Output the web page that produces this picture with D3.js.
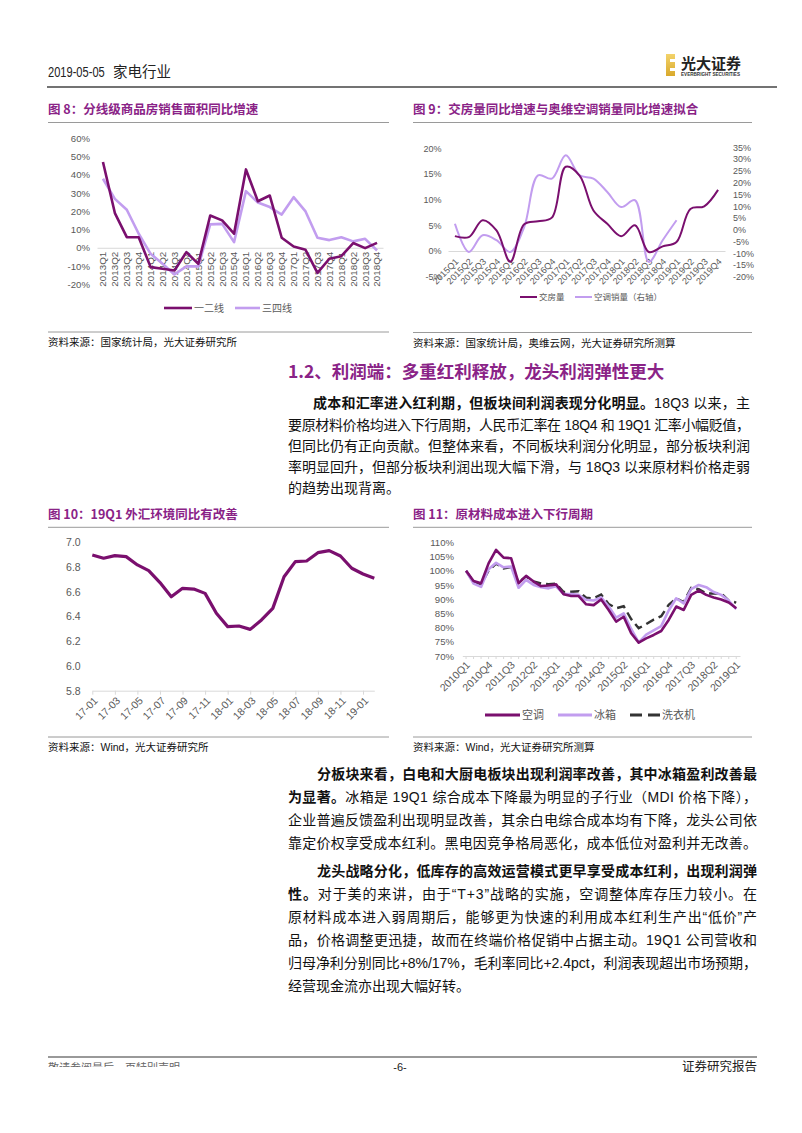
<!DOCTYPE html>
<html><head><meta charset="utf-8">
<script src="https://cdn.jsdelivr.net/npm/d3@7"></script>
<style>html,body{margin:0;padding:0;background:#fff;}svg{display:block;}</style>
</head><body>
<script>
// ---------------- DATA ----------------
const q8 = ["2013Q1","2013Q2","2013Q3","2013Q4","2014Q1","2014Q2","2014Q3","2014Q4","2015Q1","2015Q2","2015Q3","2015Q4","2016Q1","2016Q2","2016Q3","2016Q4","2017Q1","2017Q2","2017Q3","2017Q4","2018Q1","2018Q2","2018Q3","2018Q4"];
const tier12 = [47,19,5.8,5.8,-10.6,-11.5,-12.4,-2.4,-8.8,17.7,15,7.7,42.9,25.5,28.6,5.5,0.7,-1.1,-13.7,-6,-4.6,2.6,-0.2,2.7];
const tier34 = [37.8,26.8,20.8,7.7,-3.3,-8.8,-14.6,-10.2,-10.2,12.8,13.1,3.1,31,24.8,22.3,18.2,27.7,19.9,5.5,4.2,5.8,3.5,4.9,-1.5];
const ticks8 = [-20,-10,0,10,20,30,40,50,60];

const q9 = ["2015Q1","2015Q2","2015Q3","2015Q4","2016Q1","2016Q2","2016Q3","2016Q4","2017Q1","2017Q2","2017Q3","2017Q4","2018Q1","2018Q2","2018Q3","2018Q4","2019Q1","2019Q2","2019Q3","2019Q4"];
const housing = [2.9,2.7,6.0,4.0,-2.1,5.2,5.8,6.5,16.4,14.7,7.9,5.3,2.9,5.0,-0.2,0.9,1.75,8.2,8.7,11.9];
const acSales = [2.5,-9.5,-2.4,-4.5,-9.5,1.1,23.1,21.7,31.6,23.1,21.7,16,9.6,12.5,-13.7,-4.5,4.0];
const ticks9L = [-5,0,5,10,15,20];
const ticks9R = [-20,-15,-10,-5,0,5,10,15,20,25,30,35];

const m10 = ["17-01","17-02","17-03","17-04","17-05","17-06","17-07","17-08","17-09","17-10","17-11","17-12","18-01","18-02","18-03","18-04","18-05","18-06","18-07","18-08","18-09","18-10","18-11","18-12","19-01","19-02"];
const fx = [6.898,6.871,6.892,6.884,6.817,6.771,6.674,6.560,6.628,6.622,6.587,6.426,6.318,6.323,6.296,6.372,6.466,6.722,6.844,6.849,6.916,6.933,6.889,6.790,6.744,6.709];
const labels10 = ["17-01","17-03","17-05","17-07","17-09","17-11","18-01","18-03","18-05","18-07","18-09","18-11","19-01"];
const ticks10 = [5.8,6.0,6.2,6.4,6.6,6.8,7.0];

const q11 = ["2010Q1","2010Q2","2010Q3","2010Q4","2011Q1","2011Q2","2011Q3","2011Q4","2012Q1","2012Q2","2012Q3","2012Q4","2013Q1","2013Q2","2013Q3","2013Q4","2014Q1","2014Q2","2014Q3","2014Q4","2015Q1","2015Q2","2015Q3","2015Q4","2016Q1","2016Q2","2016Q3","2016Q4","2017Q1","2017Q2","2017Q3","2017Q4","2018Q1","2018Q2","2018Q3","2018Q4","2019Q1"];
const aircon = [100,96.4,95.6,102.6,107.3,104.6,104.4,95.6,98.2,96.2,94.6,94.8,95.2,91.7,91.1,91.1,88.2,87.9,89.9,86.2,82.1,83.8,78.0,74.7,76.2,77.4,78.8,82.7,87.4,86.2,91.5,93.0,91.5,90.6,89.9,88.8,86.8];
const fridge = [100,95.5,94.3,100.5,102.8,101.2,101.5,94.0,96.8,95.0,94.2,93.8,94.5,91.8,91.8,91.5,89.8,89.5,90.6,87.5,83.5,85.0,79.5,74.8,77.5,79.0,80.5,86.0,90.3,88.5,93.5,95.0,94.2,92.5,91.5,89.5,86.5];
const washer = [100,96,95.2,100,102.5,100.8,101.3,96,98,96.2,95.5,95.3,95.5,92.5,92.6,92.8,90.5,90.3,91.6,88.3,86.8,87.5,83,79.8,81.2,82.8,84,88,90.3,89,94,93.5,92,92,92,89.5,88.8];
const labels11 = ["2010Q1","2010Q4","2011Q3","2012Q2","2013Q1","2013Q4","2014Q3","2015Q2","2016Q1","2016Q4","2017Q3","2018Q2","2019Q1"];
const ticks11 = [70,75,80,85,90,95,100,105,110];

// ---------------- SETUP ----------------
const W = 802, H = 1133;
const DARK = '#7A0F6E', LIGHT = '#C29DEF', PURPLE = '#8A2387', AX = '#595959', GRID = '#D9D9D9';
const FONT = '"Liberation Sans","Noto Sans CJK SC",sans-serif';
const CJK = '"Noto Sans CJK SC","Liberation Sans",sans-serif';
const svg = d3.select('body').append('svg').attr('width', W).attr('height', H)
  .style('font-family', FONT);
svg.append('rect').attr('width', W).attr('height', H).attr('fill', '#fff');

function txt(g, x, y, s, size, opt = {}) {
  return g.append('text').attr('x', x).attr('y', y).text(s)
    .style('font-size', size + 'px')
    .style('font-family', opt.family || FONT)
    .style('font-weight', opt.weight || 400)
    .attr('fill', opt.fill || '#000')
    .attr('text-anchor', opt.anchor || 'start');
}
function hline(x1, x2, y, color, w) {
  svg.append('line').attr('x1', x1).attr('x2', x2).attr('y1', y).attr('y2', y)
    .attr('stroke', color).attr('stroke-width', w);
}

// ---------------- HEADER ----------------
txt(svg, 0, 0, '2019-05-05', 15, {fill: '#222'}).attr('transform', 'translate(48,77) scale(0.74,1)');
txt(svg, 113, 77, '家电行业', 14.5, {family: CJK, fill: '#222'});
hline(47, 777, 87, '#444', 1.5);
// logo
const lg = svg.append('g');
const grad = svg.append('defs').append('linearGradient').attr('id', 'gold').attr('x1', 0).attr('x2', 0).attr('y1', 0).attr('y2', 1);
grad.append('stop').attr('offset', '0%').attr('stop-color', '#F3D36B');
grad.append('stop').attr('offset', '100%').attr('stop-color', '#D9A92B');
lg.append('rect').attr('x', 666).attr('y', 54).attr('width', 9).attr('height', 22).attr('fill', 'url(#gold)');
lg.append('rect').attr('x', 670).attr('y', 59).attr('width', 5).attr('height', 3).attr('fill', '#fff');
lg.append('rect').attr('x', 670).attr('y', 68).attr('width', 5).attr('height', 3).attr('fill', '#fff');
txt(lg, 681, 69, '光大证券', 15, {family: CJK, weight: 700, fill: '#222'});
txt(lg, 681, 76, 'EVERBRIGHT SECURITIES', 4.6, {fill: '#333', weight: 700});

// ---------------- CHART FRAMES ----------------
function frame(x1, x2, yTitle, title, yRule, yBot, source) {
  const g = svg.append('g');
  const t = g.append('text').attr('x', x1).attr('y', yTitle)
    .style('font-size', '12.5px').style('font-weight', 700).style('font-family', CJK).attr('fill', PURPLE);
  t.text(title);
  hline(x1, x2, yRule, '#9A9A9A', 1);
  hline(x1, x2, yBot, '#9A9A9A', 1);
  txt(svg, x1, yBot + 14, source, 10.5, {family: FONT, fill: '#111'});
}
frame(48, 389, 114, '图 8：分线级商品房销售面积同比增速', 122.5, 332, '资料来源：国家统计局，光大证券研究所');
frame(413, 752, 114, '图 9：交房量同比增速与奥维空调销量同比增速拟合', 122.5, 332.5, '资料来源：国家统计局，奥维云网，光大证券研究所测算');
frame(48, 389, 519, '图 10：19Q1 外汇环境同比有改善', 527.3, 737, '资料来源：Wind，光大证券研究所');
frame(413, 752, 519, '图 11：原材料成本进入下行周期', 527.3, 737, '资料来源：Wind，光大证券研究所测算');

function styleAxisText(sel, size) {
  sel.selectAll('text').attr('fill', AX).style('font-size', size + 'px').style('font-family', FONT);
}
function yLabels(scale, vals, xEnd, fmt, size, side) {
  const ax = side === 'right' ? d3.axisRight(scale) : d3.axisLeft(scale);
  const g = svg.append('g').attr('transform', `translate(${side === 'right' ? xEnd - 3 : xEnd + 3},0)`)
    .call(ax.tickValues(vals).tickSize(0).tickFormat(fmt));
  g.select('.domain').remove();
  styleAxisText(g, size);
  return g;
}
function xAxis(scale, yPos, labels, rot, dx, dy, size, tickLen) {
  const g = svg.append('g').attr('transform', `translate(0,${yPos})`)
    .call(d3.axisBottom(scale).tickSize(tickLen).tickSizeOuter(0));
  g.select('.domain').attr('stroke', GRID);
  g.selectAll('.tick line').attr('stroke', GRID);
  g.selectAll('.tick').filter(d => labels && !labels.includes(d)).select('text').remove();
  const t = g.selectAll('text').attr('x', 0).attr('y', 0).attr('dy', '0.35em').attr('text-anchor', 'end');
  if (rot === -90) t.attr('transform', `rotate(-90)`).attr('x', -dy);
  else t.attr('transform', `translate(${dx},${dy}) rotate(${rot})`);
  styleAxisText(g, size);
  return g;
}
function legendItem(x1, x2, y, color, width, label, size, dash, family) {
  const g = svg.append('g');
  g.append('line').attr('x1', x1).attr('x2', x2).attr('y1', y).attr('y2', y)
    .attr('stroke', color).attr('stroke-width', width).attr('stroke-dasharray', dash || null);
  txt(g, x2 + 2, y + size * 0.36, label, size, {family: family || CJK, fill: AX});
}

// ---------------- CHART 8 ----------------
const x8 = d3.scaleBand().domain(q8).range([97, 383]);
const y8 = d3.scaleLinear().domain([-20, 60]).range([284.3, 138.2]);
yLabels(y8, ticks8, 90, d => d + '%', 9.6);
xAxis(x8, y8(0), null, -90, 0, 4, 9.8, 0);
const line8 = d3.line().x((d, i) => x8(q8[i]) + x8.bandwidth() / 2).y(d => y8(d));
svg.append('path').datum(tier34).attr('d', line8).attr('fill', 'none').attr('stroke', LIGHT).attr('stroke-width', 2.6).attr('stroke-linejoin', 'round');
svg.append('path').datum(tier12).attr('d', line8).attr('fill', 'none').attr('stroke', DARK).attr('stroke-width', 2.6).attr('stroke-linejoin', 'round');
legendItem(164, 192, 308, DARK, 2.6, '一二线', 10);
legendItem(235, 260, 308, LIGHT, 2.6, '三四线', 10);

// ---------------- CHART 9 ----------------
const x9 = d3.scaleBand().domain(q9).range([448, 725]);
const y9L = d3.scaleLinear().domain([-5, 20]).range([276.7, 148.3]);
const y9R = d3.scaleLinear().domain([-20, 35]).range([276.7, 147.3]);
yLabels(y9L, ticks9L, 441.5, d => d + '%', 9);
yLabels(y9R, ticks9R, 733, d => d + '%', 9, 'right');
xAxis(x9, y9L(0), null, -45, 2, 9, 9, 0);
const cx9 = (d, i) => x9(q9[i]) + x9.bandwidth() / 2;
svg.append('path').datum(acSales).attr('d', d3.line().x(cx9).y(d => y9R(d)).curve(d3.curveCatmullRom.alpha(0.5)))
  .attr('fill', 'none').attr('stroke', LIGHT).attr('stroke-width', 2);
svg.append('path').datum(housing).attr('d', d3.line().x(cx9).y(d => y9L(d)).curve(d3.curveCatmullRom.alpha(0.5)))
  .attr('fill', 'none').attr('stroke', DARK).attr('stroke-width', 2);
legendItem(520, 537, 297, DARK, 2, '交房量', 8.5);
legendItem(575, 592, 297, LIGHT, 2, '空调销量（右轴）', 8.5);

// ---------------- CHART 10 ----------------
const x10 = d3.scalePoint().domain(m10).range([92.3, 374.3]);
const y10 = d3.scaleLinear().domain([5.8, 7.0]).range([690.7, 542.3]);
yLabels(y10, ticks10, 80.7, d3.format('.1f'), 10.5);
const xa10 = svg.append('g').attr('transform', `translate(0,${y10(5.8)})`)
  .call(d3.axisBottom(x10).tickValues(labels10).tickSize(4).tickSizeOuter(0));
xa10.select('.domain').attr('stroke', GRID);
xa10.selectAll('.tick line').attr('stroke', GRID);
xa10.selectAll('text').attr('x', 0).attr('y', 0).attr('dy', '0.35em').attr('text-anchor', 'end')
  .attr('transform', 'translate(3,8) rotate(-45)');
styleAxisText(xa10, 10.5);
svg.append('path').datum(fx).attr('d', d3.line().x((d, i) => x10(m10[i])).y(d => y10(d)))
  .attr('fill', 'none').attr('stroke', DARK).attr('stroke-width', 3.2).attr('stroke-linejoin', 'round');

// ---------------- CHART 11 ----------------
const x11 = d3.scaleBand().domain(q11).range([462.3, 740]);
const y11 = d3.scaleLinear().domain([70, 110]).range([656, 542.3]);
yLabels(y11, ticks11, 454, d => d + '%', 9.6);
xAxis(x11, y11(70), labels11, -45, 2, 7, 10.5, 3);
const line11 = d3.line().x((d, i) => x11(q11[i]) + x11.bandwidth() / 2).y(d => y11(d));
svg.append('path').datum(washer).attr('d', line11).attr('fill', 'none').attr('stroke', '#333').attr('stroke-width', 2.4).attr('stroke-dasharray', '9,5');
svg.append('path').datum(fridge).attr('d', line11).attr('fill', 'none').attr('stroke', LIGHT).attr('stroke-width', 2.6).attr('stroke-linejoin', 'round');
svg.append('path').datum(aircon).attr('d', line11).attr('fill', 'none').attr('stroke', DARK).attr('stroke-width', 2.6).attr('stroke-linejoin', 'round');
legendItem(485, 520, 715, DARK, 3, '空调', 11);
legendItem(558, 592, 715, LIGHT, 3, '冰箱', 11);
legendItem(630, 660, 715, '#333', 3, '洗衣机', 11, '12,6');

// ---------------- SECTION HEADING & TEXT ----------------
txt(svg, 288, 378, '1.2、利润端：多重红利释放，龙头利润弹性更大', 17.5, {family: CJK, weight: 700, fill: PURPLE});

function para(x, xEnd, y, parts, justify) {
  const t = svg.append('text').attr('x', x).attr('y', y).style('font-size', '14px').attr('fill', '#111');
  parts.forEach(p => {
    t.append('tspan').text(p[0]).style('font-weight', p[1] ? 700 : 400).style('font-family', FONT);
  });
  if (justify) t.attr('textLength', xEnd - x).attr('lengthAdjust', 'spacing');
}
const P1 = [
  [313, 408, [['成本和汇率进入红利期，但板块间利润表现分化明显。', 1], ['18Q3 以来，主', 0]], true],
  [288, 430, [['要原材料价格均进入下行周期，人民币汇率在 18Q4 和 19Q1 汇率小幅贬值，', 0]], true],
  [288, 451, [['但同比仍有正向贡献。但整体来看，不同板块利润分化明显，部分板块利润', 0]], true],
  [288, 472, [['率明显回升，但部分板块利润出现大幅下滑，与 18Q3 以来原材料价格走弱', 0]], true],
  [288, 493, [['的趋势出现背离。', 0]], false]
];
P1.forEach(l => para(l[0], 750, l[1], l[2], l[3]));
const P2 = [
  [317, 779, [['分板块来看，白电和大厨电板块出现利润率改善，其中冰箱盈利改善最', 1]], true],
  [288, 802, [['为显著。', 1], ['冰箱是 19Q1 综合成本下降最为明显的子行业（MDI 价格下降），', 0]], true],
  [288, 825, [['企业普遍反馈盈利出现明显改善，其余白电综合成本均有下降，龙头公司依', 0]], true],
  [288, 848, [['靠定价权享受成本红利。黑电因竞争格局恶化，成本低位对盈利并无改善。', 0]], true],
  [317, 876, [['龙头战略分化，低库存的高效运营模式更早享受成本红利，出现利润弹', 1]], true],
  [288, 899, [['性。', 1], ['对于美的来讲，由于“T+3”战略的实施，空调整体库存压力较小。在', 0]], true],
  [288, 922, [['原材料成本进入弱周期后，能够更为快速的利用成本红利生产出“低价”产', 0]], true],
  [288, 945, [['品，价格调整更迅捷，故而在终端价格促销中占据主动。19Q1 公司营收和', 0]], true],
  [288, 968, [['归母净利分别同比+8%/17%，毛利率同比+2.4pct，利润表现超出市场预期，', 0]], true],
  [288, 991, [['经营现金流亦出现大幅好转。', 0]], false]
];
P2.forEach(l => para(l[0], 757, l[1], l[2], l[3]));

// ---------------- FOOTER ----------------
hline(48, 757, 1057, '#777', 1.5);
svg.append('defs').append('clipPath').attr('id', 'fclip').append('rect').attr('x', 40).attr('y', 1058).attr('width', 200).attr('height', 9);
txt(svg, 48, 1072, '敬请参阅最后一页特别声明', 11, {family: CJK, fill: '#666'}).attr('clip-path', 'url(#fclip)');
txt(svg, 400, 1071, '-6-', 11, {anchor: 'middle', fill: '#222'});
txt(svg, 757, 1071, '证券研究报告', 12.5, {family: CJK, anchor: 'end', fill: '#222'});
</script>
</body></html>
